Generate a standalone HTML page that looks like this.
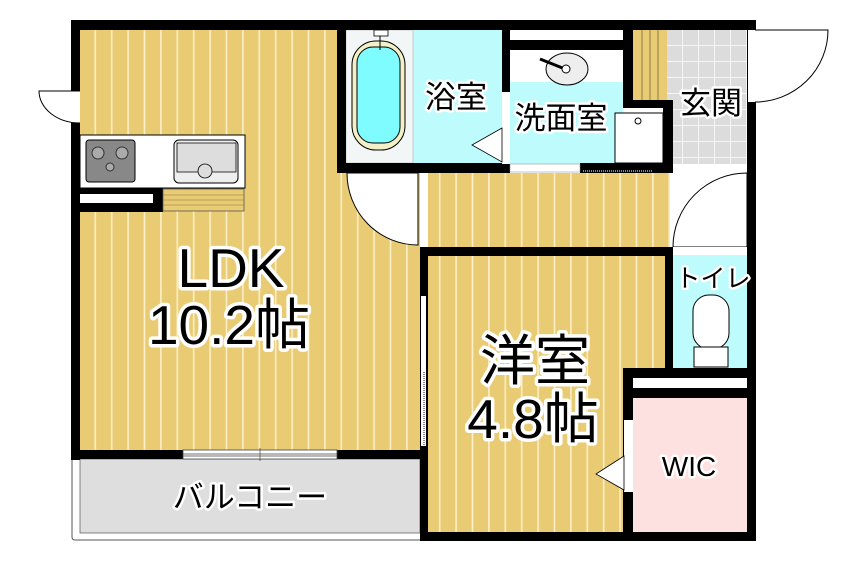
<!DOCTYPE html>
<html><head><meta charset="utf-8"><style>
html,body{margin:0;padding:0;background:#fff;width:868px;height:563px;overflow:hidden}
svg{display:block}
text{font-family:"Liberation Sans","Noto Sans CJK JP",sans-serif;paint-order:stroke;stroke:#fff;stroke-linejoin:round;fill:#000}
</style></head><body>
<svg width="868" height="563" viewBox="0 0 868 563" xmlns="http://www.w3.org/2000/svg">
<defs>
<pattern id="wood" width="16.4" height="10" patternUnits="userSpaceOnUse" x="80">
<rect width="16.4" height="10" fill="#e9cb73"/><rect x="14.5" width="1.6" height="10" fill="#fbf0c8"/>
</pattern>
<pattern id="tile" width="16" height="16" patternUnits="userSpaceOnUse" x="667" y="30">
<rect width="16" height="16" fill="#dcdcdc"/><path d="M16 0V16M0 16H16" stroke="#fff" stroke-width="1.5"/>
</pattern>
</defs>
<!-- floors -->
<rect x="80" y="30" width="340" height="422" fill="url(#wood)"/>
<rect x="420" y="173" width="250" height="76" fill="url(#wood)"/>
<rect x="428" y="255" width="238" height="278" fill="url(#wood)"/>
<rect x="413" y="30" width="90" height="135" fill="#bdfbfd"/>
<rect x="346" y="30" width="67" height="133" fill="#f3f6f6" stroke="#aaa" stroke-width="0.5"/>
<rect x="510" y="82" width="113" height="82" fill="#bdfbfd"/>
<rect x="510" y="50" width="113" height="32" fill="#fff"/>
<rect x="667" y="30" width="80" height="134" fill="url(#tile)"/>
<rect x="633" y="27" width="34" height="73" fill="#e9cb73"/>
<path d="M642 27V100M650 27V100M658 27V100" stroke="#7a6a40" stroke-width="0.8"/>
<rect x="673" y="255" width="74" height="113" fill="#bdfbfd"/>
<rect x="633" y="398" width="114" height="135" fill="#fde0e0"/>
<rect x="80" y="459" width="340" height="74" fill="#dedede" stroke="#666" stroke-width="0.8"/>
<path d="M72 459V537Q72 540 75 540H420" fill="none" stroke="#555" stroke-width="1"/>
<!-- walls -->
<g fill="#000">
<rect x="71" y="20" width="685" height="10"/>
<rect x="71" y="20" width="9" height="440"/>
<rect x="71" y="450" width="357" height="9"/>
<rect x="337" y="20" width="9" height="153"/>
<rect x="337" y="163" width="173" height="10"/>
<rect x="502" y="20" width="8" height="153"/>
<rect x="510" y="40" width="113" height="10"/>
<rect x="623" y="20" width="10" height="83"/>
<rect x="623" y="100" width="50" height="8"/>
<rect x="663" y="100" width="10" height="73"/>
<rect x="580" y="163" width="93" height="10"/>
<rect x="747" y="20" width="9" height="521"/>
<rect x="420" y="247" width="253" height="9"/>
<rect x="420" y="247" width="8" height="294"/>
<rect x="665" y="247" width="8" height="130"/>
<rect x="623" y="368" width="133" height="10"/>
<rect x="623" y="388" width="133" height="10"/>
<rect x="623" y="368" width="10" height="173"/>
<rect x="420" y="532" width="336" height="9"/>
<rect x="80" y="188" width="83" height="24"/>
</g>
<rect x="633" y="378" width="114" height="10" fill="#fff"/>
<rect x="80" y="194" width="73" height="9" fill="#fff"/>
<rect x="510" y="30" width="113" height="10" fill="#fff"/>
<!-- openings -->
<rect x="72" y="91" width="8" height="32" fill="#fff"/>
<path d="M80 91H39A41 32 0 0 0 80 123" fill="#fff" stroke="#000" stroke-width="1"/>
<rect x="748" y="30" width="8" height="72" fill="#fff"/>
<path d="M755 30H828A73 72 0 0 1 755 102" fill="#fff" stroke="#000" stroke-width="1"/>
<rect x="420" y="173" width="8" height="74" fill="#fff"/>
<path d="M347 173H418V245A71 72 0 0 1 347 173Z" fill="#fff" stroke="#000" stroke-width="1"/>
<path d="M747 173V247H673A74 74 0 0 1 747 173Z" fill="#fff" stroke="#000" stroke-width="1"/>
<rect x="673" y="247" width="74" height="8" fill="#fff"/>
<rect x="421" y="296" width="5" height="150" fill="#fff"/>
<path d="M424 372V446" stroke="#888" stroke-width="2" stroke-dasharray="1 1"/>
<rect x="502" y="92" width="8" height="72" fill="#fff"/>
<path d="M502 128L472 145L502 162Z" fill="#fff" stroke="#000" stroke-width="0.8"/>
<rect x="510" y="164" width="70" height="8" fill="#fff" stroke="#888" stroke-width="0.5"/>
<path d="M583 171H653" stroke="#888" stroke-width="2" stroke-dasharray="1 1"/>
<rect x="624" y="420" width="9" height="72" fill="#fff"/>
<path d="M624 456L596 474L624 490Z" fill="#fff" stroke="#000" stroke-width="0.8"/>
<rect x="183" y="450" width="154" height="9" fill="#fff" stroke="#444" stroke-width="0.8"/>
<path d="M183 454H337M183 456H337M260 448V461" stroke="#444" stroke-width="0.7"/>
<!-- fixtures -->
<rect x="80" y="135" width="165" height="53" fill="#fff" stroke="#000" stroke-width="1"/>
<rect x="86" y="140" width="49" height="42" rx="3" fill="#888" stroke="#000"/>
<circle cx="98" cy="153" r="6" fill="#aaa" stroke="#333"/><circle cx="122" cy="153" r="6" fill="#aaa" stroke="#333"/><circle cx="110" cy="167" r="4" fill="#aaa" stroke="#333"/>
<rect x="174" y="140" width="64" height="43" rx="5" fill="#eee" stroke="#000"/>
<path d="M177 143H236V172H210Q205 180 198 172H177Z" fill="#ddd" stroke="#000" stroke-width="0.8"/>
<circle cx="205" cy="171" r="7" fill="#ddd" stroke="#000" stroke-width="0.8"/>
<rect x="163" y="189" width="81" height="22" fill="#e9cb73" stroke="#555" stroke-width="0.8"/>
<path d="M163 195H244M163 200H244M163 205H244" stroke="#8a7a50" stroke-width="0.6"/>
<rect x="352" y="41" width="53" height="109" rx="24" fill="#f3efc6" stroke="#000"/>
<rect x="357" y="47" width="43" height="96" rx="16" fill="#7ffcff" stroke="#000"/>
<rect x="374" y="30" width="14" height="6" fill="#fff" stroke="#000" stroke-width="0.8"/>
<path d="M380 36V50" stroke="#000"/>
<ellipse cx="567" cy="69" rx="21" ry="16" fill="#eee" stroke="#000"/>
<path d="M540 59L565 69" stroke="#000" stroke-width="3"/>
<circle cx="566" cy="69" r="4" fill="#fff" stroke="#000"/>
<rect x="615" y="113" width="48" height="50" fill="#fff" stroke="#000"/>
<circle cx="638" cy="121" r="3" fill="none" stroke="#000"/>
<rect x="693" y="295" width="36" height="54" rx="16" fill="#fff" stroke="#000"/>
<rect x="694" y="347" width="34" height="20" fill="#fff" stroke="#000"/>
<!-- labels -->
<text x="231" y="287" font-size="55" stroke-width="7" text-anchor="middle">LDK</text>
<text x="229" y="344" font-size="55" stroke-width="7" text-anchor="middle">10.2帖</text>
<text x="456" y="108" font-size="31" stroke-width="5" text-anchor="middle">浴室</text>
<text x="561" y="129" font-size="31" stroke-width="5" text-anchor="middle">洗面室</text>
<text x="711" y="114" font-size="31" stroke-width="5" text-anchor="middle">玄関</text>
<text x="713" y="287" font-size="25" stroke-width="5" text-anchor="middle">トイレ</text>
<text x="535" y="380" font-size="55" stroke-width="7" text-anchor="middle">洋室</text>
<text x="533" y="438" font-size="55" stroke-width="7" text-anchor="middle">4.8帖</text>
<text x="689" y="476" font-size="28" stroke-width="5" text-anchor="middle">WIC</text>
<text x="250" y="508" font-size="31" stroke-width="5" text-anchor="middle">バルコニー</text>
</svg>
</body></html>
